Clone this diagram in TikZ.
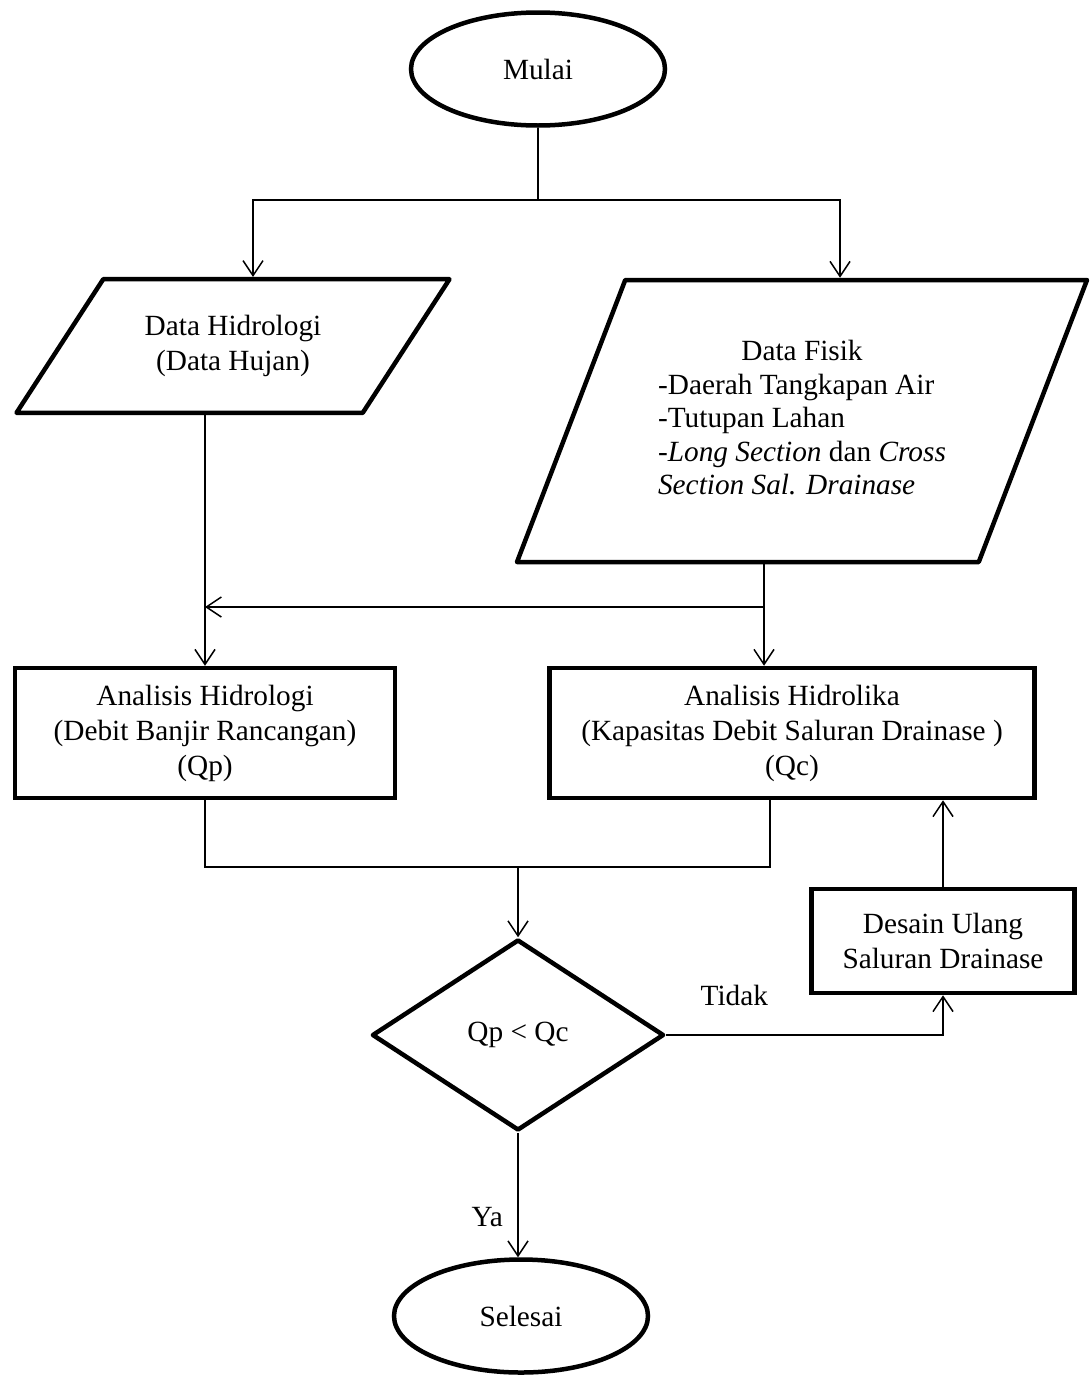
\documentclass[tikz,border=0pt]{standalone}
\usepackage{fontspec}
\setmainfont{Liberation Serif}
\usetikzlibrary{positioning}
\usetikzlibrary{shapes.geometric}
\usetikzlibrary{arrows.meta}

\begin{document}
\begin{tikzpicture}[
  x=1pt, y=-1pt,
  >={Straight Barb[length=15pt,width=20pt]},
  every node/.style={font=\fontsize{29.3}{35}\selectfont},
  line/.style={line width=1.5pt},
  term/.style={draw,ellipse,line width=4.5pt,minimum width=254pt,minimum height=113pt},
  io/.style={draw,trapezium,trapezium stretches body,line width=4.5pt,line join=round,align=center},
  proc/.style={draw,rectangle,line width=4.5pt,align=center},
  cond/.style={draw,diamond,line width=4.5pt,line join=round}
]
\useasboundingbox (0,0) rectangle (1090,1376);

\node[term] (mulai) at (538,69) {Mulai};
\node[io,trapezium left angle=57,trapezium right angle=123,minimum width=433pt,inner ysep=36pt] (hid) at (233,346) {Data Hidrologi\\(Data Hujan)};
\node[io,trapezium left angle=69,trapezium right angle=111,minimum width=570pt,inner ysep=57pt] (fis) at (802,421) {\renewcommand{\arraystretch}{0.96}\begin{tabular}{@{}l@{}}\multicolumn{1}{@{}c@{}}{Data Fisik}\\-Daerah Tangkapan Air\\-Tutupan Lahan\\-\textit{Long Section} dan \textit{Cross}\\\textit{Section Sal. Drainase}\end{tabular}};
\node[proc,minimum width=380pt,minimum height=130pt] (ah) at (205,733) {Analisis Hidrologi\\(Debit Banjir Rancangan)\\(Qp)};
\node[proc,minimum width=485pt,minimum height=130pt] (ahk) at (792,733) {Analisis Hidrolika\\(Kapasitas Debit Saluran Drainase )\\(Qc)};
\node[cond,minimum width=292pt,minimum height=191pt] (dec) at (518,1035) {Qp < Qc};
\node[proc,minimum width=263pt,minimum height=104pt] (des) at (943,941) {Desain Ulang\\Saluran Drainase};
\node[term] (sel) at (521,1316) {Selesai};

\coordinate (top) at (538,200);
\coordinate (split) at (764,607);
\coordinate (merge) at (518,867);

\draw[line] (mulai) -- (top);
\draw[line,->] (top) -| ([xshift=20pt]hid.north);
\draw[line,->] (top) -| ([xshift=38pt]fis.north);
\draw[line,->] (ah.north |- hid.south) -- (ah.north);
\draw[line,->] (split |- fis.south) -- (split |- ahk.north);
\draw[line,->] (split) -- (split -| ah.north);
\draw[line] (ah.south) |- (merge) -| ([xshift=-22pt]ahk.south);
\draw[line,->] (merge) -- (dec);
\draw[line,->] (dec.east) -| (des.south) node[pos=0.123,above=25pt] (tidak) {Tidak};
\draw[line,->] (des) -- (des |- ahk.south);
\draw[line,->] (dec) -- (dec |- sel.north) node[pos=0.675,left=11pt] (ya) {Ya};

\end{tikzpicture}
\end{document}
